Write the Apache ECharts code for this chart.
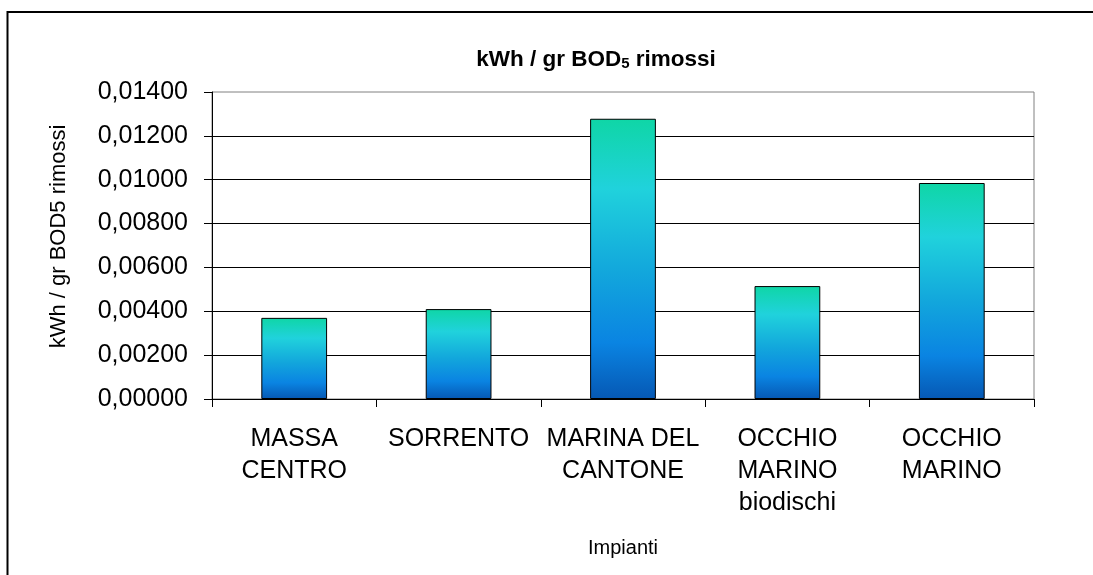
<!DOCTYPE html>
<html>
<head>
<meta charset="utf-8">
<script src="https://cdn.jsdelivr.net/npm/echarts@6/dist/echarts.min.js"></script>
<style>
  html, body { margin: 0; padding: 0; background: #fff; }
  #chart { width: 1093px; height: 575px; }
</style>
</head>
<body>
<div id="chart"></div>
<script>
var myChart = echarts.init(document.getElementById('chart'));

var categories = ['MASSA\nCENTRO', 'SORRENTO', 'MARINA DEL\nCANTONE', 'OCCHIO\nMARINO\nbiodischi', 'OCCHIO\nMARINO'];
var values = [0.00370, 0.00410, 0.01278, 0.00515, 0.00985];
var yMin = 0, yMax = 0.014, yStep = 0.002;

var fontFam = '"Liberation Sans", Arial, sans-serif';

var barColor = new echarts.graphic.LinearGradient(0, 0, 0, 1, [
    { offset: 0, color: '#0fd6a6' },
    { offset: 0.25, color: '#20d2dc' },
    { offset: 0.55, color: '#12a6dc' },
    { offset: 0.8, color: '#0a84e2' },
    { offset: 1, color: '#0658b4' }
]);

option = {
    backgroundColor: '#fff',
    animation: false,
    title: {
        text: '{a|kWh / gr BOD}{s|5}{a| rimossi}',
        left: 591,
        top: 43,
        textAlign: 'center',
        textStyle: {
            rich: {
                a: { fontFamily: fontFam, fontWeight: 'bold', fontSize: 22.5, color: '#000' },
                s: { fontFamily: fontFam, fontWeight: 'bold', fontSize: 15, color: '#000', verticalAlign: 'bottom', padding: [8, 0, 0, 0] }
            }
        }
    },
    graphic: [
        {
            type: 'rect',
            shape: { x: 7.5, y: 12, width: 1200, height: 700 },
            style: { fill: null, stroke: '#000', lineWidth: 2 },
            silent: true
        }
    ],
    grid: {
        left: 212,
        right: 59,
        top: 92,
        bottom: 176,
        show: true,
        borderColor: '#808080',
        borderWidth: 1,
        backgroundColor: '#fff'
    },
    xAxis: {
        type: 'category',
        data: categories,
        name: 'Impianti',
        nameLocation: 'middle',
        nameGap: 139,
        nameTextStyle: { fontFamily: fontFam, fontSize: 20, color: '#000' },
        axisLine: { lineStyle: { color: '#000', width: 1 } },
        axisTick: { show: true, length: 8, alignWithLabel: false, lineStyle: { color: '#000' } },
        axisLabel: {
            interval: 0,
            margin: 24,
            fontFamily: fontFam,
            fontSize: 25,
            lineHeight: 32,
            color: '#000'
        },
        splitLine: { show: false }
    },
    yAxis: {
        type: 'value',
        min: yMin,
        max: yMax,
        interval: yStep,
        name: 'kWh / gr BOD5 rimossi',
        nameLocation: 'middle',
        nameGap: 142,
        nameTextStyle: { fontFamily: fontFam, fontSize: 22, color: '#000', padding: [0, 0, 0, 18] },
        axisLine: { show: true, lineStyle: { color: '#000', width: 1 } },
        axisTick: { show: true, length: 8, lineStyle: { color: '#000' } },
        axisLabel: {
            margin: 24,
            fontFamily: fontFam,
            fontSize: 25,
            color: '#000',
            formatter: function (v) {
                return v.toFixed(5).replace('.', ',');
            }
        },
        splitLine: { show: true, showMaxLine: false, lineStyle: { color: '#000', width: 1 } }
    },
    series: [
        {
            type: 'bar',
            data: values,
            barWidth: '40%',
            itemStyle: {
                color: barColor,
                borderColor: '#000',
                borderWidth: 1
            }
        }
    ]
};

myChart.setOption(option);
</script>
</body>
</html>
